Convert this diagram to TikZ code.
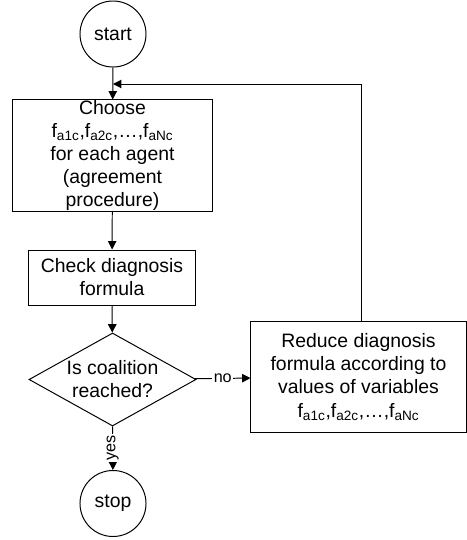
\documentclass[tikz,border=0pt]{standalone}
\usepackage{fontspec}
\setmainfont{Liberation Sans}
\usetikzlibrary{shapes.geometric,arrows.meta}
\newcommand{\fvars}{f\textsubscript{a1c},f\textsubscript{a2c},\ldots,f\textsubscript{aNc}}
\begin{document}
\begin{tikzpicture}[x=0.025cm,y=-0.025cm,
    every node/.style={font=\fontsize{13.8}{16.4}\selectfont},
    term/.style={draw,circle,minimum size=1.65cm,inner sep=0pt},
    proc/.style={draw,rectangle,align=center,inner sep=0pt},
    decide/.style={draw,diamond,minimum width=4.175cm,minimum height=2.325cm,inner sep=0pt},
    flow/.style={-{Triangle[length=6pt,width=6pt]}},
    tag/.style={fill=white,inner sep=1pt,font=\fontsize{11.5}{13}\selectfont},
    line width=0.7pt]
    \useasboundingbox (0,0) rectangle (467,540);
    % nodes
    \node[term] (start) at (113,34) {start};
    \node[proc,minimum width=4.975cm,minimum height=2.775cm] (choose) at (112.5,155.5)
        {Choose\\ \fvars\\ for each agent\\ (agreement\\ procedure)};
    \node[proc,minimum width=4.15cm,minimum height=1.375cm] (check) at (112,277.5)
        {Check diagnosis\\ formula};
    \node[decide,label={[align=center]center:Is coalition\\ reached?}] (coal) at (112.5,379.5) {};
    \node[term] (stop) at (113,503.5) {stop};
    \node[proc,minimum width=5.375cm,minimum height=2.75cm] (reduce) at (358.5,377)
        {Reduce diagnosis\\ formula according to\\ values of variables\\ \fvars};
    \coordinate (turn) at (361,84);
    \coordinate (merge) at (113,84);
    % connectors
    \draw[flow] (start) -- (choose);
    \draw[flow] (choose) -- (check);
    \draw[flow] (check) -- (coal);
    \draw[flow] (coal) -- node[tag,rotate=90]{yes} (stop);
    \draw[flow] (coal) -- node[tag]{no} (reduce);
    \draw[flow] (reduce.north -| turn) -- (turn) -- (merge);
\end{tikzpicture}
\end{document}
